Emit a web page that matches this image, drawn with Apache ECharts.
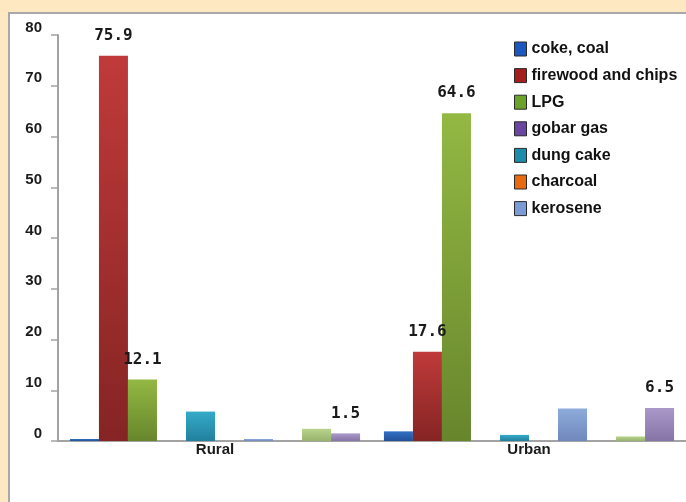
<!DOCTYPE html>
<html>
<head>
<meta charset="utf-8">
<style>
  html, body { margin: 0; padding: 0; background: #fde8c2; }
  #chart { width: 686px; height: 502px; }
</style>
<script src="https://cdn.jsdelivr.net/npm/echarts@6/dist/echarts.min.js"></script>
</head>
<body>
<div id="chart"></div>
<script>
// categories and series (values in %)
const categories = ['Rural', 'Urban'];
const seriesNames = ['coke, coal', 'firewood and chips', 'LPG', 'gobar gas', 'dung cake',
  'charcoal', 'kerosene', 'electricity', 'others', 'no cooking arrangement'];
const cokeCoal   = [0.4, 1.9];
const firewood   = [75.9, 17.6];
const lpg        = [12.1, 64.6];
const gobarGas   = [0, 0];
const dungCake   = [5.8, 1.2];
const charcoal   = [0, 0];
const kerosene   = [0.4, 6.4];
const electricity = [0, 0];
const others     = [2.4, 0.9];
const noCooking  = [1.5, 6.5];
const seriesValues = [cokeCoal, firewood, lpg, gobarGas, dungCake, charcoal, kerosene, electricity, others, noCooking];
const yTicks = [0, 10, 20, 30, 40, 50, 60, 70, 80];

// only these get a value label
const labelled = ['firewood and chips', 'LPG', 'no cooking arrangement'];
// only these show in the legend (the rest were cut off in the original)
const legendNames = seriesNames.slice(0, 7);

// bar gradients: top, bottom
const barColors = [
  ['#3170c4', '#22509a'],
  ['#c03a3a', '#852424'],
  ['#93b843', '#67862c'],
  ['#7a58b0', '#55388a'],
  ['#33abc9', '#22809e'],
  ['#f08030', '#c05810'],
  ['#8dabdb', '#7088bc'],
  ['#d07a78', '#a85452'],
  ['#b8d48c', '#98b46c'],
  ['#aa98c9', '#8674a6']
];
const legendColors = ['#1c57bf', '#a41e1e', '#6aa22b', '#6a45a2', '#1b8dab', '#e8690e', '#7a9bd5'];

const myChart = echarts.init(document.getElementById('chart'));

const series = seriesNames.map((name, i) => ({
  name: name,
  type: 'bar',
  data: seriesValues[i],
  barGap: '0%',
  barCategoryGap: '7.6%',
  itemStyle: {
    color: new echarts.graphic.LinearGradient(0, 0, 0, 1, [
      {offset: 0, color: barColors[i][0]},
      {offset: 1, color: barColors[i][1]}
    ])
  },
  label: {
    show: labelled.indexOf(name) >= 0,
    position: 'top',
    distance: 12,
    fontFamily: 'DejaVu Sans Mono',
    fontWeight: 'bold',
    fontSize: 16,
    color: '#1a1a1a',
    formatter: p => p.value.toFixed(1)
  }
}));

myChart.setOption({
  backgroundColor: '#fde8c2',
  animation: false,
  graphic: {
    elements: [{
      type: 'rect',
      z: -10,
      shape: {x: 9, y: 13, width: 700, height: 520},
      style: {fill: '#ffffff', stroke: '#a9a9a9', lineWidth: 2}
    }]
  },
  legend: {
    orient: 'vertical',
    left: 514,
    top: 41,
    padding: 0,
    icon: 'rect',
    itemWidth: 12,
    itemHeight: 14,
    itemGap: 10.6,
    itemStyle: {borderColor: '#2a2a2a', borderWidth: 1},
    textStyle: {
      fontFamily: 'Liberation Sans',
      fontWeight: 'bold',
      fontSize: 16,
      lineHeight: 14,
      color: '#111'
    },
    data: legendNames.map((n, i) => ({name: n, itemStyle: {color: legendColors[i]}}))
  },
  grid: {left: 58, right: 0, top: 35, bottom: 61},
  xAxis: {
    type: 'category',
    data: categories,
    axisLine: {lineStyle: {color: '#a3a3a3', width: 2}},
    axisTick: {length: 9, lineStyle: {color: '#a3a3a3', width: 1.5}},
    axisLabel: {
      margin: 1,
      fontFamily: 'Liberation Sans',
      fontWeight: 'bold',
      fontSize: 15,
      color: '#1a1a1a'
    }
  },
  yAxis: {
    type: 'value',
    min: yTicks[0],
    max: yTicks[yTicks.length - 1],
    interval: 10,
    splitLine: {show: false},
    axisLine: {show: true, lineStyle: {color: '#a3a3a3', width: 2}},
    axisTick: {show: true, length: 7, lineStyle: {color: '#a3a3a3', width: 1.5}},
    axisLabel: {
      margin: 16,
      verticalAlign: 'bottom',
      lineHeight: 15,
      fontFamily: 'Liberation Sans',
      fontWeight: 'bold',
      fontSize: 15,
      color: '#1a1a1a'
    }
  },
  series: series
});
</script>
</body>
</html>
